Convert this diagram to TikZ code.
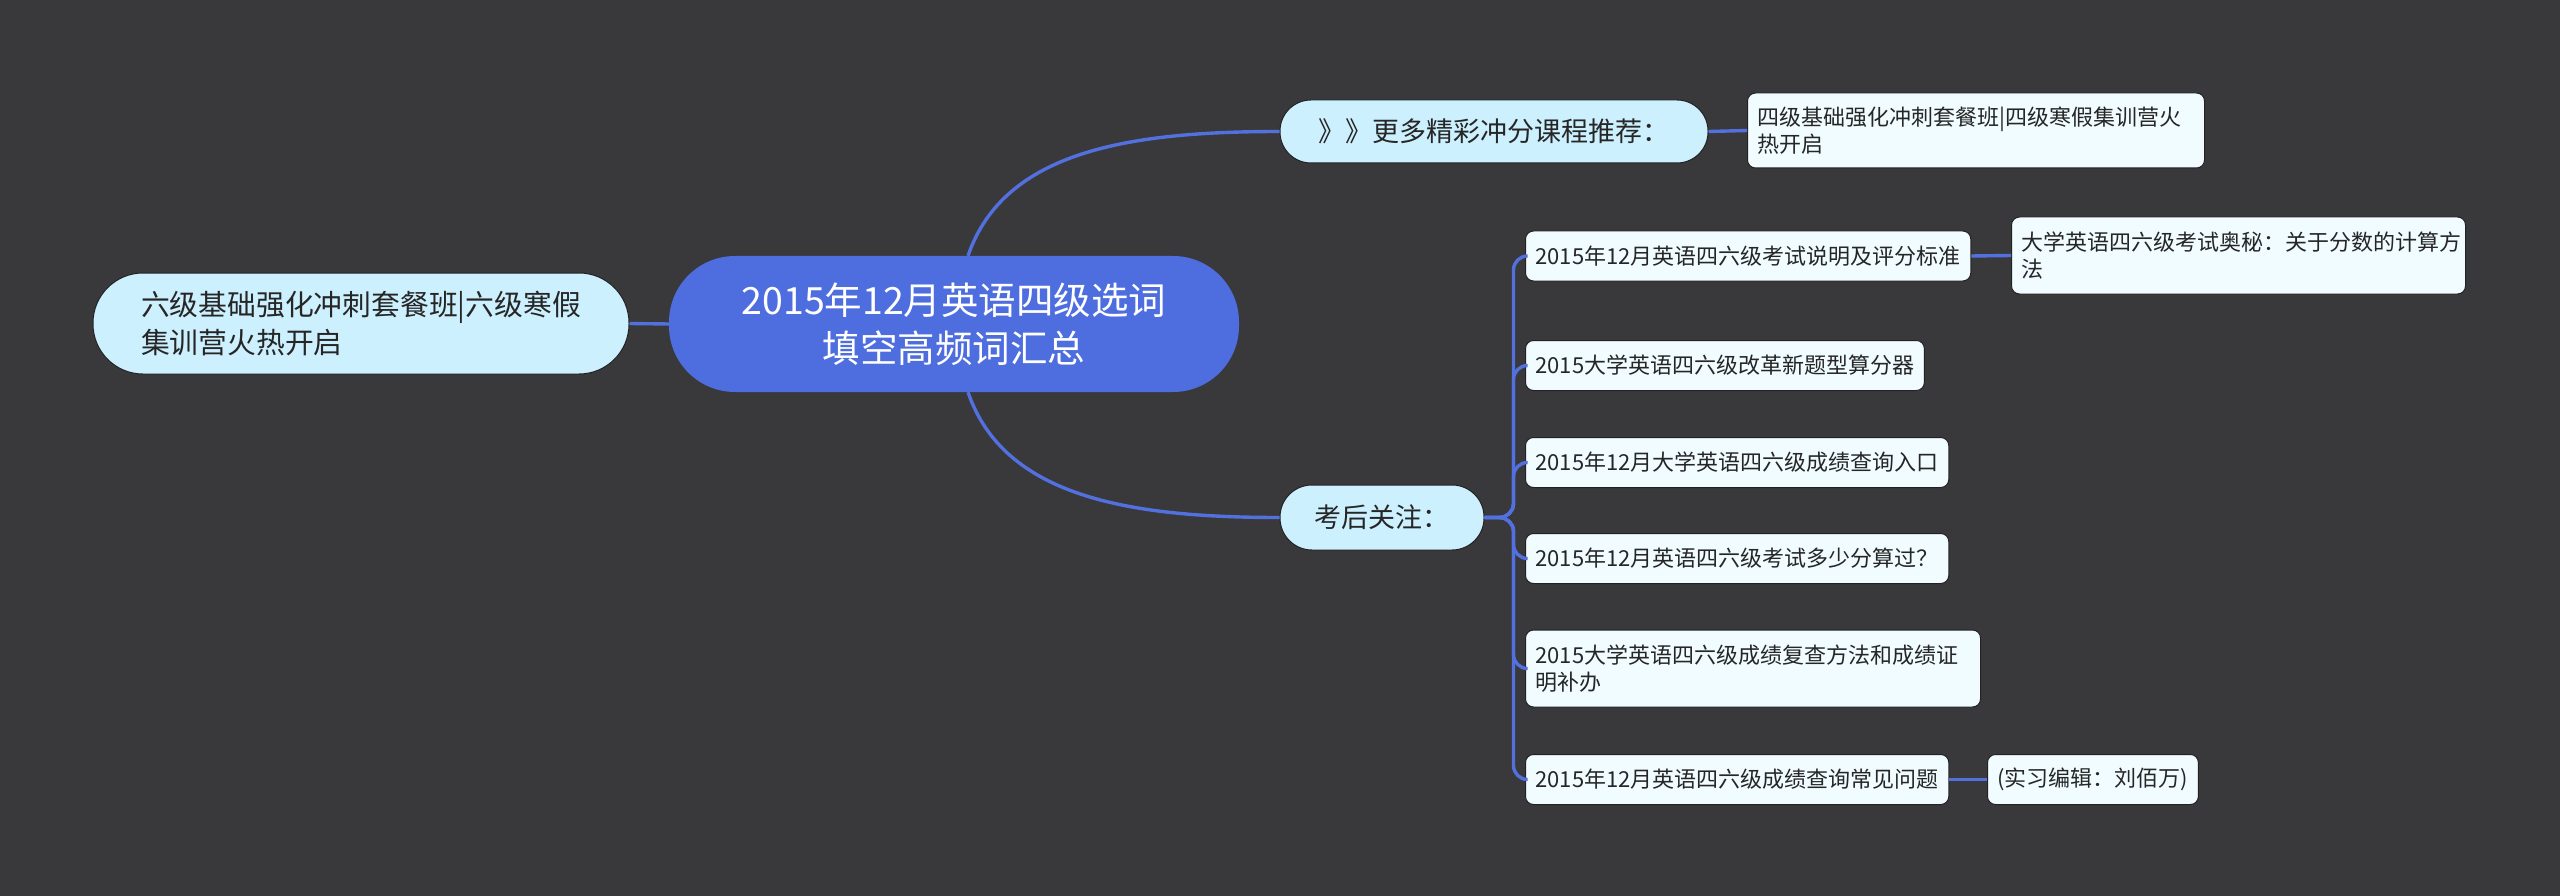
\documentclass[tikz,border=0pt]{standalone}
\usepackage{fontspec}
\newfontfamily\cjk{Noto Sans CJK SC}
\usetikzlibrary{calc}
\definecolor{bgc}{RGB}{57,56,58}
\definecolor{rootc}{RGB}{78,110,224}
\definecolor{linec}{RGB}{82,112,222}
\definecolor{lonec}{RGB}{204,240,254}
\definecolor{leafc}{RGB}{240,252,255}
\definecolor{edgec}{RGB}{34,34,36}
\definecolor{txtc}{RGB}{38,38,38}
\begin{document}
\begin{tikzpicture}[x=1pt,y=-1pt,
  conn/.style={draw=linec, line width=3.4pt},
  rootbox/.style={fill=rootc, text=white, rounded corners=66pt, minimum width=570pt, minimum height=136pt, align=center, font=\cjk\fontsize{37.5}{48}\selectfont, inner sep=0pt},
  lonebox/.style={fill=lonec, draw=edgec, line width=1pt, text=txtc, inner sep=0pt, align=left},
  leafbox/.style={fill=leafc, draw=edgec, line width=1pt, rounded corners=8pt, text=txtc, font=\cjk\fontsize{22}{27.7}\selectfont, inner xsep=10pt, inner ysep=0pt, minimum height=50pt, align=left, anchor=west},
]
\fill[bgc] (0,0) rectangle (2560,896);
\useasboundingbox (0,0) rectangle (2560,896);

% root
\node[rootbox] (c) at (954,324) {2015年12月英语四级选词\\填空高频词汇总};

% left
\node[lonebox, minimum width=536pt, minimum height=101pt, rounded corners=50pt, font=\cjk\fontsize{28.8}{38}\selectfont] (l) at (361,323.5) {六级基础强化冲刺套餐班|六级寒假\\集训营火热开启};

% level 1 right
\node[lonebox, minimum width=428pt, minimum height=63pt, rounded corners=31pt, font=\cjk\fontsize{27}{34}\selectfont] (m) at (1494,131.5) {》》更多精彩冲分课程推荐：};
\node[lonebox, minimum width=204pt, minimum height=65pt, rounded corners=32pt, font=\cjk\fontsize{27}{34}\selectfont] (k) at (1382,517.5) {考后关注：};

% leaves
\node[leafbox, minimum height=75pt, text width=437pt] (tl) at (1747,130.5) {四级基础强化冲刺套餐班|四级寒假集训营火\\热开启};
\node[leafbox] (a1) at (1525,256) {2015年12月英语四六级考试说明及评分标准};
\node[leafbox, minimum height=77pt, text width=434pt] (a1c) at (2011,255.5) {大学英语四六级考试奥秘：关于分数的计算方\\法};
\node[leafbox] (a2) at (1525,365.5) {2015大学英语四六级改革新题型算分器};
\node[leafbox] (a3) at (1525,462.5) {2015年12月大学英语四六级成绩查询入口};
\node[leafbox] (a4) at (1525,558.5) {2015年12月英语四六级考试多少分算过？};
\node[leafbox, minimum height=77pt, text width=435pt] (a5) at (1525,668.5) {2015大学英语四六级成绩复查方法和成绩证\\明补办};
\node[leafbox] (a6) at (1525,779.5) {2015年12月英语四六级成绩查询常见问题};
\node[leafbox] (a6c) at (1987,779.5) {(实习编辑：刘佰万)};

% connectors
\draw[conn] (c.west) -- (l.east);
\draw[conn] ($(c.north)+(14,0)$) .. controls ($(c.north)+(50,-105)$) and ($(m.west)+(-150,0)$) .. (m.west);
\draw[conn] ($(c.south)+(14,0)$) .. controls ($(c.south)+(50,105)$) and ($(k.west)+(-150,0)$) .. (k.west);
\draw[conn] (m.east) -- (tl.west);
\draw[conn] (a1.east) -- (a1c.west);
\draw[conn] (a6.east) -- (a6c.west);
\foreach \n in {a1,a2,a3,a4,a5,a6}{
  \draw[conn, rounded corners=14pt] (k.east) -- ($(k.east)+(29,0)$) |- (\n.west);
}
\end{tikzpicture}
\end{document}
